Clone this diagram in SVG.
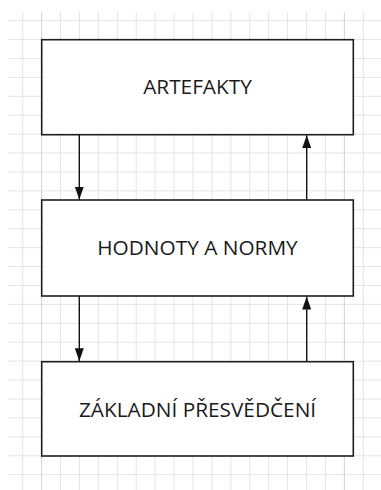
<svg xmlns="http://www.w3.org/2000/svg" width="381" height="490" viewBox="0 0 381 490">
<defs>
<style>
.grid{stroke:#e4e4e4;stroke-width:1;fill:none}
.gridd{stroke:#d2d2d2;stroke-width:1;fill:none}
.box{fill:#ffffff;stroke:#1e1e1e;stroke-width:1.6}
.lbl{font-family:"Open Sans","Noto Sans",sans-serif;font-size:20.8px;fill:#1a1a1a;text-anchor:middle}
.conn{stroke:#111111;stroke-width:1.4;fill:none;marker-end:url(#ah)}
</style>
<marker id="ah" markerUnits="userSpaceOnUse" markerWidth="13" markerHeight="9" refX="13" refY="4.5" orient="auto" viewBox="0 0 13 9">
<path d="M0,0 L13,4.5 L0,9 z" fill="#111111"/>
</marker>
</defs>
<rect width="381" height="490" fill="#ffffff"/>
<g id="grid">
<path class="grid" d="M22.7,12V490 M60.54,12V490 M79.46,12V490 M98.38,12V490 M117.3,12V490 M136.22,12V490 M155.14,12V490 M174.06,12V490 M192.98,12V490 M211.9,12V490 M230.82,12V490 M249.74,12V490 M268.66,12V490 M287.58,12V490 M306.5,12V490 M325.42,12V490 M363.26,12V490
M8,20.6H381 M8,39.52H381 M8,58.44H381 M8,77.36H381 M8,96.28H381 M8,115.2H381 M8,134.12H381 M8,153.04H381 M8,171.96H381 M8,190.88H381 M8,209.8H381 M8,228.72H381 M8,247.64H381 M8,266.56H381 M8,285.48H381 M8,304.4H381 M8,323.32H381 M8,342.24H381 M8,361.16H381 M8,380.08H381 M8,399H381 M8,417.92H381 M8,436.84H381 M8,455.76H381 M8,474.68H381"/>
<path class="gridd" d="M41.62,12V490 M344.34,12V490"/>
</g>
<g id="node-artefakty">
<rect class="box" x="41.7" y="39.7" width="311.6" height="95"/>
<text class="lbl" x="197.5" y="94.3">ARTEFAKTY</text>
</g>
<g id="node-hodnoty">
<rect class="box" x="41.7" y="200" width="311.6" height="96"/>
<text class="lbl" x="197.5" y="255">HODNOTY A NORMY</text>
</g>
<g id="node-presvedceni">
<rect class="box" x="41.7" y="361.7" width="311.6" height="94.3"/>
<text class="lbl" x="197.5" y="417.3">ZÁKLADNÍ PŘESVĚDČENÍ</text>
</g>
<g id="connectors">
<line class="conn" x1="79.3" y1="134.7" x2="79.3" y2="199.6"/>
<line class="conn" x1="306.7" y1="200" x2="306.7" y2="135.2"/>
<line class="conn" x1="79.3" y1="296" x2="79.3" y2="361.2"/>
<line class="conn" x1="306.7" y1="361.7" x2="306.7" y2="296.5"/>
</g>
</svg>
